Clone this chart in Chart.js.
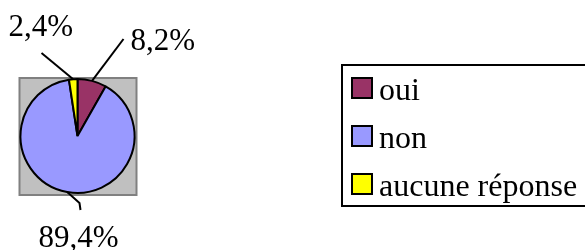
<!DOCTYPE html>
<html>
<head>
<meta charset="utf-8">
<script src="https://cdn.jsdelivr.net/npm/chart.js@4/dist/chart.umd.min.js"></script>
<style>
  html, body { margin: 0; padding: 0; background: #fff; }
  #wrap { width: 585px; height: 250px; }
</style>
</head>
<body>
<div id="wrap"><canvas id="pieChart"></canvas></div>
<script>
const categories = ['oui', 'non', 'aucune réponse'];
const values = [8.2, 89.4, 2.4];
const valueLabels = ['8,2%', '89,4%', '2,4%'];
const colors = ['#993366', '#9999FF', '#FFFF00'];

const SERIF = '"Liberation Serif", "Times New Roman", serif';

// where each percentage label sits, relative to the pie centre
const labelSpots = [
  { bend: [46, -97], text: [53, -86], align: 'left' },
  { bend: [2, 67], end: [3, 74], text: [1, 111], align: 'center' },
  { bend: [-36, -83], text: [-69, -100], align: 'left' }
];

const pieDecor = {
  id: 'pieDecor',
  beforeDatasetsDraw(chart) {
    const arc = chart.getDatasetMeta(0).data[0];
    const { x, y } = arc.getProps(['x', 'y'], true);
    const ctx = chart.ctx;
    ctx.save();
    ctx.fillStyle = '#C0C0C0';
    ctx.fillRect(x - 58, y - 58, 117, 117);
    ctx.strokeStyle = '#808080';
    ctx.lineWidth = 2;
    ctx.strokeRect(x - 58, y - 58, 117, 117);
    ctx.restore();
  },
  afterDatasetsDraw(chart) {
    const ctx = chart.ctx;
    const meta = chart.getDatasetMeta(0);
    ctx.save();
    meta.data.forEach((el, i) => {
      const p = el.getProps(['x', 'y', 'startAngle', 'endAngle', 'outerRadius'], true);
      const mid = (p.startAngle + p.endAngle) / 2;
      const sx = p.x + Math.cos(mid) * p.outerRadius;
      const sy = p.y + Math.sin(mid) * p.outerRadius;
      const spot = labelSpots[i];
      ctx.strokeStyle = '#000';
      ctx.lineWidth = 2;
      ctx.beginPath();
      ctx.moveTo(sx, sy);
      ctx.lineTo(p.x + spot.bend[0], p.y + spot.bend[1]);
      if (spot.end) ctx.lineTo(p.x + spot.end[0], p.y + spot.end[1]);
      ctx.stroke();
      ctx.fillStyle = '#000';
      ctx.font = '31px ' + SERIF;
      ctx.textAlign = spot.align;
      ctx.textBaseline = 'alphabetic';
      ctx.fillText(valueLabels[i], p.x + spot.text[0], p.y + spot.text[1]);
    });
    ctx.restore();
  },
  afterDraw(chart) {
    // legend box
    const ctx = chart.ctx;
    ctx.save();
    ctx.strokeStyle = '#000';
    ctx.lineWidth = 2;
    ctx.strokeRect(342, 65, 260, 141);
    categories.forEach((name, i) => {
      const top = 78 + i * 48;
      ctx.fillStyle = colors[i];
      ctx.fillRect(352, top, 20, 20);
      ctx.lineWidth = 2;
      ctx.strokeRect(352, top, 20, 20);
      ctx.fillStyle = '#000';
      ctx.font = '32px ' + SERIF;
      ctx.textAlign = 'left';
      ctx.textBaseline = 'alphabetic';
      ctx.fillText(name, 379, top + 22);
    });
    ctx.restore();
  }
};

new Chart(document.getElementById('pieChart'), {
  type: 'pie',
  data: {
    labels: categories,
    datasets: [{
      data: values,
      backgroundColor: colors,
      borderColor: '#000',
      borderWidth: 2
    }]
  },
  options: {
    responsive: true,
    maintainAspectRatio: false,
    animation: false,
    layout: { padding: { left: 19, top: 78, right: 449, bottom: 56 } },
    plugins: {
      legend: { display: false },
      tooltip: { enabled: false }
    }
  },
  plugins: [pieDecor]
});
</script>
</body>
</html>
